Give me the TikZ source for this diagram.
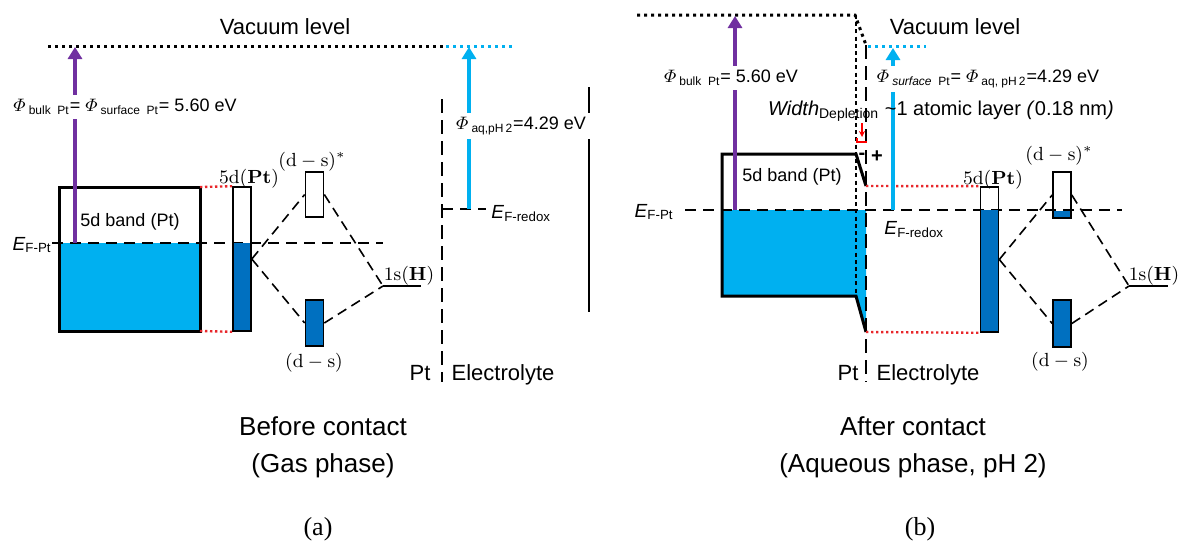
\RequirePackage{fix-cm}
\documentclass[tikz,border=0pt]{standalone}
\usepackage{amsmath}
\usepackage[no-math]{fontspec}
\setmainfont{Liberation Sans}
\newfontfamily\serifcap{Liberation Serif}
\usetikzlibrary{arrows.meta}
\definecolor{bandfill}{HTML}{00B0F0}
\definecolor{barfill}{HTML}{0070C0}
\definecolor{bulkarrow}{HTML}{7030A0}
\definecolor{dotred}{HTML}{E8262A}

\begin{document}
\begin{tikzpicture}[x=0.5pt,y=-0.5pt,
  txt/.style={font=\fontsize{9}{11}\selectfont,inner sep=1pt},
  mtxt/.style={font=\fontsize{9.5}{11}\selectfont,inner sep=1pt},
  bigtxt/.style={font=\fontsize{11}{13}\selectfont,inner sep=0pt},
  captxt/.style={font=\fontsize{13}{15}\selectfont,inner sep=0pt,anchor=base},
  eftxt/.style={font=\fontsize{9.5}{11}\selectfont,inner sep=0pt},
  vacdots/.style={line width=1.5pt,dash pattern=on 1.5pt off 2pt},
  fermi/.style={line width=1.2pt,dash pattern=on 5.5pt off 3.5pt},
  split/.style={line width=1.2pt,dash pattern=on 7pt off 3.5pt},
  thinsplit/.style={line width=0.7pt,dash pattern=on 2pt off 1.6pt},
  mixing/.style={line width=0.8pt,dash pattern=on 5pt off 3pt},
  redlink/.style={dotred,line width=1.2pt,dash pattern=on 1.2pt off 1.3pt},
  bandedge/.style={line width=1.5pt,line join=miter},
  orbital/.style={draw,line width=0.8pt,minimum width=9pt,inner sep=0pt},
  wf/.style={line width=2.4pt,-{Triangle[width=7pt,length=6pt]}},
  wflabel/.style={txt,fill=white,inner sep=2pt}]
\useasboundingbox (0,0) rectangle (1178,542);

% (a) before contact, gas phase
\node[bigtxt] (vacA) at (285,27) {Vacuum level};
\coordinate (vacA0) at (48,46);
\coordinate (vacA1) at (446,46);
\coordinate (vacA2) at (515,46);
\draw[vacdots] (vacA0) -- (vacA1);
\draw[vacdots,bandfill] (vacA1) -- (vacA2);

\fill[bandfill] (59,243) rectangle (200,331);
\node[draw,bandedge,minimum width=70.5pt,minimum height=72pt,inner sep=0pt,outer sep=0pt] (bandA) at (129.5,259) {};
\node[txt] (bandAtxt) at (130,222) {5d band (Pt)};

\node[eftxt,anchor=base east] (efA) at (52,250) {\textit{E}\textsubscript{F-Pt}};
\coordinate (efA1) at (383,243);
\draw[fermi] (efA.east |- efA1) -- (efA1);

\fill[barfill] (233,243) rectangle (251,331);
\node[orbital,minimum height=72pt] (pdA) at (242,259) {};
\node[orbital,minimum height=22.5pt] (dssA) at (314.5,194.5) {};
\node[orbital,fill=barfill,minimum height=23pt] (dsA) at (314.5,323) {};
\coordinate (hA) at (383,286);
\draw[line width=1pt] (hA) -- (421,286);
\node[mtxt] (pdAtxt) at (249,179) {$5\mathrm{d}(\mathbf{Pt})$};
\node[mtxt] (dssAtxt) at (312,162) {$(\mathrm{d}-\mathrm{s})^{*}$};
\node[mtxt] (dsAtxt) at (314,363) {$(\mathrm{d}-\mathrm{s})$};
\node[mtxt] (hAtxt) at (409,276) {$1\mathrm{s}(\mathbf{H})$};

\draw[redlink] (bandA.north east) -- (pdA.north west);
\draw[redlink] (bandA.south east) -- (pdA.south west);
\draw[mixing] (pdA.east) -- (dssA.west);
\draw[mixing] (pdA.east) -- (dsA.west);
\draw[mixing] (dssA.east) -- (hA);
\draw[mixing] (dsA.east) -- (hA);

% interface and redox level
\coordinate (sepA0) at (442,99);
\coordinate (sepA1) at (442,382);
\draw[split] (sepA0) -- (sepA1);
\coordinate (redoxA) at (442,209);
\coordinate (redoxA1) at (486,209);
\draw[fermi] (redoxA) -- (redoxA1);
\node[eftxt,anchor=base west] (redoxAtxt) at (491,218) {\textit{E}\textsubscript{F-redox}};
\coordinate (wallA0) at (589,87);
\coordinate (wallA1) at (589,312);
\draw[line width=1.2pt] (wallA0) -- (wallA1);

% work functions
\coordinate (wfA0) at (75,243);
\coordinate (wfA1) at (75,47);
\draw[wf,bulkarrow] (wfA0) -- (wfA1);
\coordinate (aqA0) at (469,209);
\coordinate (aqA1) at (469,47);
\draw[wf,bandfill] (aqA0) -- (aqA1);
\node[wflabel] (phiA) at (125,107) {$\varPhi$\,\textsubscript{bulk\ \ Pt}= $\varPhi$\,\textsubscript{surface\ \ Pt}= 5.60 eV};
\node[wflabel] (phiaqA) at (521,126) {$\varPhi$\,\textsubscript{aq,pH\,2}=4.29 eV};

\node[bigtxt,anchor=base] (ptA) at (420,380) {Pt};
\node[bigtxt,anchor=base] (elA) at (503,380) {Electrolyte};
\node[captxt] (capA1) at (323,435) {Before contact};
\node[captxt] (capA2) at (323,472) {(Gas phase)};
\node[captxt,font=\fontsize{13}{15}\serifcap] (tagA) at (318,535) {(a)};

% (b) after contact, aqueous phase pH 2
\node[bigtxt] (vacB) at (955,27) {Vacuum level};
\coordinate (vacB0) at (637,15);
\coordinate (vacB1) at (855,15);
\coordinate (vacB2) at (866,45);
\coordinate (vacB3) at (868,46);
\coordinate (vacB4) at (926,46);
\draw[vacdots] (vacB0) -- (vacB1) -- (vacB2);
\draw[vacdots,bandfill] (vacB3) -- (vacB4);

% bent band at the interface
\coordinate (bandBtl) at (722,154);
\coordinate (bandBtr) at (856,154);
\coordinate (bandBtk) at (866,186);
\coordinate (bandBbl) at (722,296);
\coordinate (bandBbr) at (856,296);
\coordinate (bandBbk) at (866,332);
\fill[bandfill] (722,210) -- (866,210) -- (bandBbk) -- (bandBbr) -- (bandBbl) -- cycle;
\draw[bandedge] (bandBtk) -- (bandBtr) -- (bandBtl) -- (bandBbl) -- (bandBbr) -- (bandBbk);
\node[txt] (bandBtxt) at (792,177) {5d band (Pt)};

\node[eftxt,anchor=base east] (efB) at (674,217) {\textit{E}\textsubscript{F-Pt}};
\coordinate (efB0) at (685,210);
\coordinate (efB1) at (1122,210);
\draw[fermi] (efB0) -- (efB1);

\coordinate (surfB0) at (856,15);
\coordinate (surfB1) at (856,296);
\draw[thinsplit] (surfB0) -- (surfB1);
\coordinate (sepB0) at (866,45);
\coordinate (sepB1) at (866,382);
\draw[split] (sepB0) -- (sepB1);

\fill[barfill] (981,210) rectangle (998,332);
\node[orbital,minimum height=72.5pt] (pdB) at (989.5,259.5) {};
\fill[barfill] (1053,211) rectangle (1071,218);
\node[orbital,minimum height=23pt] (dssB) at (1062,195) {};
\node[orbital,fill=barfill,minimum height=23.5pt] (dsB) at (1062,323.5) {};
\coordinate (hB) at (1129,286);
\draw[line width=1pt] (hB) -- (1168,286);
\node[mtxt] (pdBtxt) at (993,180) {$5\mathrm{d}(\mathbf{Pt})$};
\node[mtxt] (dssBtxt) at (1059,156) {$(\mathrm{d}-\mathrm{s})^{*}$};
\node[mtxt] (dsBtxt) at (1060,362) {$(\mathrm{d}-\mathrm{s})$};
\node[mtxt] (hBtxt) at (1154,276) {$1\mathrm{s}(\mathbf{H})$};

\draw[redlink] (bandBtk) -- (pdB.north west);
\draw[redlink] (bandBbk) -- (pdB.south west);
\draw[mixing] (pdB.east) -- (dssB.west);
\draw[mixing] (pdB.east) -- (dsB.west);
\draw[mixing] (dssB.east) -- (hB);
\draw[mixing] (dsB.east) -- (hB);

% work functions and depletion width
\coordinate (wfB0) at (735,210);
\coordinate (wfB1) at (735,16);
\draw[wf,bulkarrow] (wfB0) -- (wfB1);
\coordinate (aqB0) at (893,210);
\coordinate (aqB1) at (893,48);
\draw[wf,bandfill] (aqB0) -- (aqB1);
\node[wflabel] (phiB) at (731,78) {$\varPhi$\,\textsubscript{bulk\ \ Pt}= 5.60 eV};
\node[wflabel] (phiaqB) at (988,79) {$\varPhi$\,\textsubscript{\itshape surface\upshape\ \ Pt}= $\varPhi$\,\textsubscript{aq, pH\,2}=4.29 eV};
\node[font=\fontsize{10}{12}\selectfont,inner sep=0pt,anchor=base] (deplB) at (941,115)
  {\textit{Width}\textsubscript{Depletion} \textasciitilde1 atomic layer \textit{(}0.18 nm\textit{)}};
\coordinate (deplB0) at (862,123);
\coordinate (deplB1) at (862,137);
\draw[red,line width=0.6pt,-{Stealth[length=3pt,width=3pt]}] (deplB0) -- (deplB1);
\draw[red,line width=0.6pt] (857,138) -- (857,142) -- (867,142);
\node[font=\fontsize{10}{12}\selectfont\bfseries,inner sep=0pt] (minusB) at (862,156) {-};
\node[font=\fontsize{10}{12}\selectfont\bfseries,inner sep=0pt] (plusB) at (877,157) {+};
\node[eftxt,anchor=base west] (redoxBtxt) at (884,234) {\textit{E}\textsubscript{F-redox}};

\node[bigtxt,anchor=base] (ptB) at (848,380) {Pt};
\node[bigtxt,anchor=base] (elB) at (928,380) {Electrolyte};
\node[captxt] (capB1) at (913,435) {After contact};
\node[captxt] (capB2) at (913,472) {(Aqueous phase, pH 2)};
\node[captxt,font=\fontsize{13}{15}\serifcap] (tagB) at (920,535) {(b)};
\end{tikzpicture}
\end{document}
